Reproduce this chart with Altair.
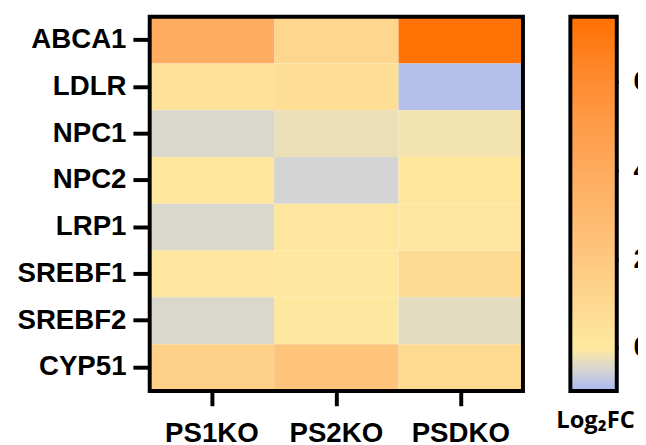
import altair as alt
import pandas as pd

genes = ["ABCA1", "LDLR", "NPC1", "NPC2", "LRP1", "SREBF1", "SREBF2", "CYP51"]
groups = ["PS1KO", "PS2KO", "PSDKO"]
ps1ko = [3.9, 0.4, -0.43, 0.18, -0.43, 0.15, -0.43, 1.47]
ps2ko = [1.1, 0.7, -0.23, -0.5, 0.15, 0.05, 0.05, 2.2]
psdko = [7.3, -0.83, -0.14, 0.18, 0.1, 0.8, -0.32, 0.94]

color_domain = [-0.96, -0.5, 0, 2, 4, 6, 7.48]
color_range = ["#a8b8f2", "#d4d4d4", "#fee9a0", "#fec77f", "#feab5e", "#ff8c32", "#ff7000"]
legend_ticks = [0, 2, 4, 6]
legend_title = "Log₂FC"

rows = []
for g, vals in zip(groups, [ps1ko, ps2ko, psdko]):
    for gene, v in zip(genes, vals):
        rows.append({"gene": gene, "group": g, "value": v})
df = pd.DataFrame(rows)
tick_df = pd.DataFrame({"v": legend_ticks})

W, H = 378, 379
FONT = "Liberation Sans"

heat = alt.Chart(df).mark_rect().encode(
    x=alt.X("group:N", sort=groups, title=None,
            axis=alt.Axis(labelAngle=0, tickSize=15, labelPadding=14, domain=False,
                          ticks=True, tickColor="black", tickWidth=4,
                          labelFont=FONT, labelFontSize=28, labelFontWeight="bold",
                          labelColor="black")),
    y=alt.Y("gene:N", sort=genes, title=None,
            axis=alt.Axis(tickSize=17, labelPadding=7, domain=False,
                          ticks=True, tickColor="black", tickWidth=4,
                          labelFont=FONT, labelFontSize=28, labelFontWeight="bold",
                          labelColor="black")),
    color=alt.Color("value:Q",
                    scale=alt.Scale(domain=color_domain, range=color_range, interpolate="rgb"),
                    legend=alt.Legend(values=legend_ticks, title=None, orient="right",
                                      direction="vertical", offset=48, padding=0,
                                      gradientLength=379, gradientThickness=47,
                                      gradientStrokeColor="black", gradientStrokeWidth=4,
                                      labelOffset=17, labelFont=FONT, labelFontSize=28,
                                      labelFontWeight="bold", labelColor="black")),
)

frame = alt.Chart(alt.Data(values=[{"a": 1}])).mark_rect(
    fillOpacity=0, stroke="black", strokeWidth=4
).encode(x=alt.value(0), x2=alt.value("width"), y=alt.value(0), y2=alt.value("height"))

leg_scale = alt.Scale(domain=[color_domain[0], color_domain[-1]], nice=False, zero=False)
tick_left = alt.Chart(tick_df).mark_rule(color="black", strokeWidth=3).encode(
    y=alt.Y("v:Q", scale=leg_scale, axis=None),
    x=alt.value(426), x2=alt.value(436),
)
tick_right = alt.Chart(tick_df).mark_rule(color="black", strokeWidth=3).encode(
    y=alt.Y("v:Q", scale=leg_scale, axis=None),
    x=alt.value(465), x2=alt.value(475),
)

title_txt = alt.Chart(alt.Data(values=[{"t": legend_title}])).mark_text(
    font="Open Sans", fontSize=24, fontWeight="bold", color="black",
    align="center", baseline="alphabetic"
).encode(text="t:N", x=alt.value(451.5), y=alt.value(417))

chart = alt.layer(heat, frame, tick_left, tick_right, title_txt).resolve_scale(
    y="independent"
).properties(
    width=W, height=H,
    autosize=alt.AutoSizeParams(type="none"),
    padding={"left": 143.5, "top": 6, "right": 116.5, "bottom": 52},
).configure_view(stroke=None).configure_legend(gradientVerticalMaxLength=400)

chart.save("out.html", embed_options={"renderer": "svg", "actions": False})
